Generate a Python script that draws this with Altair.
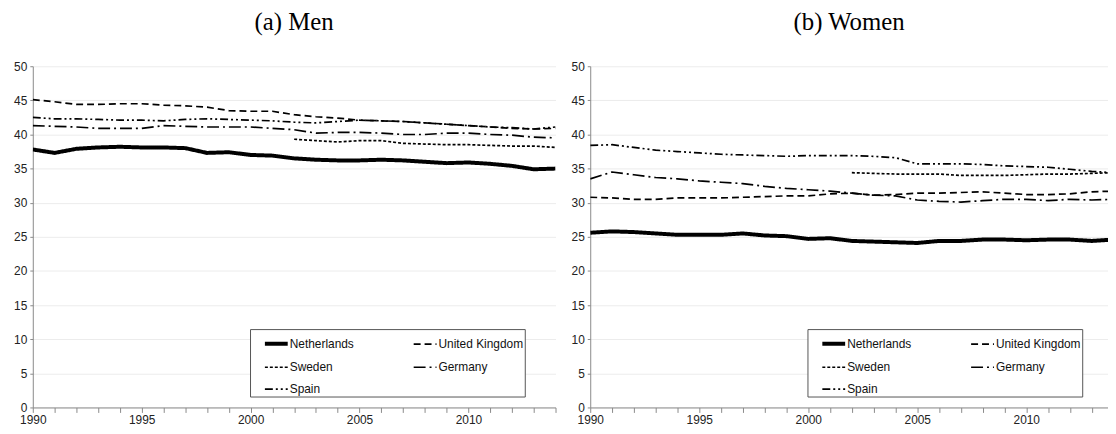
import altair as alt
import pandas as pd

years = list(range(1990, 2015))
countries = ["Netherlands", "United Kingdom", "Sweden", "Germany", "Spain"]

men_netherlands = [37.8, 37.3, 37.9, 38.1, 38.2, 38.1, 38.1, 38.0, 37.3, 37.4, 37.0, 36.9, 36.5,
                   36.3, 36.2, 36.2, 36.3, 36.2, 36.0, 35.8, 35.9, 35.7, 35.4, 34.9, 35.0]
men_uk = [45.1, 44.8, 44.4, 44.4, 44.5, 44.5, 44.3, 44.2, 44.0, 43.5, 43.4, 43.4, 42.9,
          42.6, 42.4, 42.1, 42.0, 41.9, 41.7, 41.5, 41.3, 41.1, 40.9, 40.8, 40.9]
men_sweden = [None] * 12 + [39.3, 39.1, 38.9, 39.1, 39.1, 38.7, 38.6, 38.5, 38.5, 38.4, 38.3, 38.3, 38.1]
men_germany = [41.3, 41.2, 41.1, 40.9, 40.9, 40.9, 41.3, 41.2, 41.1, 41.1, 41.1, 40.9, 40.7,
               40.2, 40.3, 40.3, 40.2, 40.0, 40.0, 40.2, 40.2, 40.0, 39.9, 39.6, 39.5]
men_spain = [42.5, 42.3, 42.3, 42.2, 42.1, 42.1, 42.0, 42.2, 42.3, 42.2, 42.1, 42.0, 41.8,
             41.7, 41.9, 42.1, 42.0, 41.9, 41.7, 41.5, 41.3, 41.1, 41.0, 40.8, 41.1]

women_netherlands = [25.6, 25.8, 25.7, 25.5, 25.3, 25.3, 25.3, 25.5, 25.2, 25.1, 24.7, 24.8, 24.4,
                     24.3, 24.2, 24.1, 24.4, 24.4, 24.6, 24.6, 24.5, 24.6, 24.6, 24.4, 24.6]
women_uk = [30.8, 30.7, 30.5, 30.5, 30.7, 30.7, 30.7, 30.8, 30.9, 31.0, 31.0, 31.3, 31.4,
            31.1, 31.2, 31.4, 31.4, 31.5, 31.6, 31.4, 31.2, 31.2, 31.3, 31.6, 31.7]
women_sweden = [None] * 12 + [34.4, 34.3, 34.2, 34.2, 34.2, 34.0, 34.0, 34.0, 34.1, 34.2, 34.2, 34.3, 34.4]
women_germany = [33.5, 34.5, 34.1, 33.7, 33.5, 33.2, 33.0, 32.8, 32.4, 32.1, 31.9, 31.7, 31.4,
                 31.1, 31.0, 30.4, 30.2, 30.1, 30.3, 30.5, 30.5, 30.3, 30.5, 30.4, 30.5]
women_spain = [38.4, 38.5, 38.1, 37.7, 37.5, 37.3, 37.1, 37.0, 36.9, 36.8, 36.9, 36.9, 36.9,
               36.8, 36.6, 35.7, 35.7, 35.7, 35.6, 35.4, 35.3, 35.2, 34.9, 34.6, 34.4]

y_ticks = list(range(0, 51, 5))


def long_df(series):
    rows = []
    for c, vals in zip(countries, series):
        for yr, v in zip(years, vals):
            if v is not None:
                rows.append({"year": yr, "value": v, "country": c})
    return pd.DataFrame(rows)


dash_range = [[1, 0], [7, 4], [3, 2], [12, 4, 2, 4], [8, 3, 2, 3, 2, 3]]
width_range = [4, 1.7, 1.7, 1.7, 1.7]


def legend():
    return alt.Legend(
        title=None, orient="none", legendX=219, legendY=265, direction="horizontal",
        columns=2, symbolType="stroke", symbolStrokeColor="black", symbolSize=529,
        labelFont="Liberation Sans", labelFontSize=12, labelColor="#111",
        symbolOffset=12, labelOffset=0, columnPadding=46, rowPadding=3, padding=1,
        fillColor="white", strokeColor="#555", symbolFillColor="black",
    )


def panel(series, title, xmax, width):
    df = long_df(series)
    return alt.Chart(df).mark_line(clip=True, color="black", strokeCap="butt").encode(
        x=alt.X("year:Q", scale=alt.Scale(domain=[1990, xmax], nice=False, zero=False),
                axis=alt.Axis(values=years, title=None, grid=False, tickSize=5,
                              labelExpr="datum.value % 5 === 0 ? format(datum.value, 'd') : ''",
                              labelOverlap=False, labelFlush=False,
                              labelFont="Liberation Sans", labelFontSize=12, labelColor="#222",
                              domainColor="#8a8a8a", tickColor="#8a8a8a", labelPadding=2)),
        y=alt.Y("value:Q", scale=alt.Scale(domain=[0, 50], nice=False),
                axis=alt.Axis(values=y_ticks, title=None, grid=True, gridColor="#ececec",
                              tickSize=3, domainColor="#8a8a8a", tickColor="#8a8a8a",
                              labelFont="Liberation Sans", labelFontSize=12, labelColor="#222",
                              labelPadding=3, minExtent=25, maxExtent=25)),
        strokeDash=alt.StrokeDash("country:N", scale=alt.Scale(domain=countries, range=dash_range),
                                  legend=legend()),
        strokeWidth=alt.StrokeWidth("country:N",
                                    scale=alt.Scale(type="ordinal", domain=countries, range=width_range),
                                    legend=legend()),
        detail="country:N",
    ).properties(
        width=width, height=344,
        title=alt.TitleParams(text=title, font="Liberation Serif", fontSize=25,
                              fontWeight="normal", color="black", anchor="middle", offset=26),
    )


men = panel([men_netherlands, men_uk, men_sweden, men_germany, men_spain], "(a) Men", 2014, 527)
women = panel([women_netherlands, women_uk, women_sweden, women_germany, women_spain],
              "(b) Women", 2013.75, 522)

chart = alt.hconcat(men, women, spacing=9).resolve_scale(
    strokeDash="independent", strokeWidth="independent"
).resolve_legend(
    strokeDash="independent", strokeWidth="independent"
).properties(padding=0).configure_view(stroke=None)

chart.save("out.html", embed_options={"renderer": "svg", "actions": False})
